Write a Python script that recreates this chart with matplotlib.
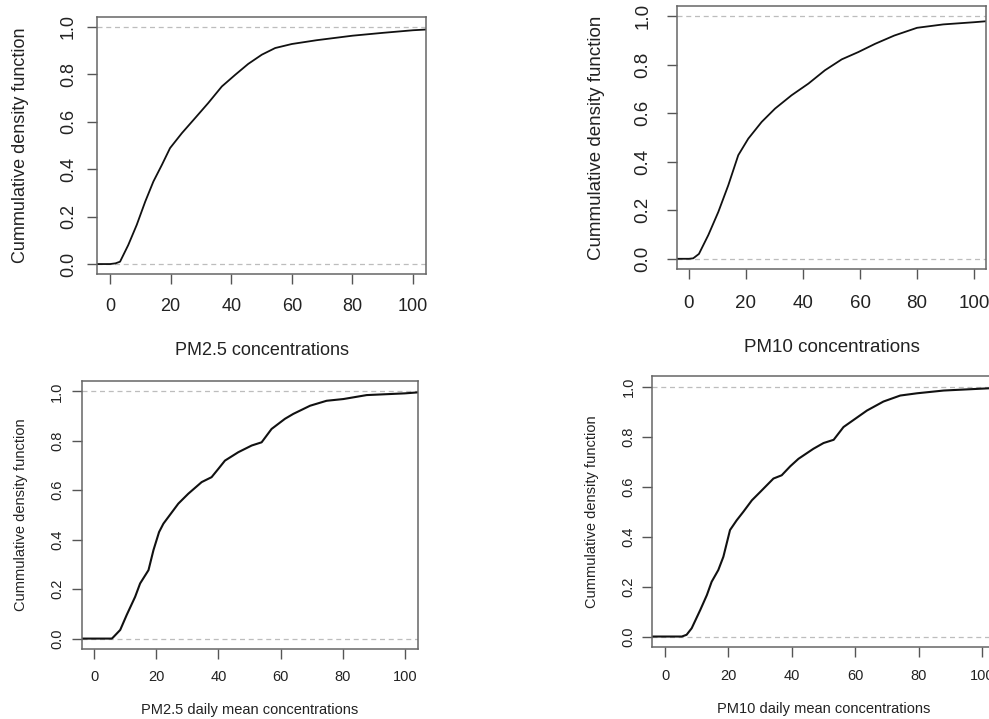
import matplotlib
matplotlib.use("Agg")
import matplotlib.pyplot as plt

plt.rcParams["font.family"] = ["Liberation Sans", "DejaVu Sans"]

# PM2.5 concentrations (smoothed ecdf)
pm25_x = [-4.3, 0, 1.8, 3.3, 6.0, 8.8, 11.6, 14.3, 17.1, 19.8, 23.7, 28.1, 32.4, 36.9, 41.3,
          45.6, 50.1, 54.5, 60, 68.2, 80, 90, 100, 104.3]
pm25_y = [0, 0, 0.003, 0.010, 0.080, 0.165, 0.263, 0.348, 0.418, 0.489, 0.552, 0.616, 0.679,
          0.749, 0.798, 0.844, 0.883, 0.911, 0.928, 0.944, 0.963, 0.975, 0.986, 0.989]

# PM10 concentrations
pm10_x = [-4.2, 0, 1.5, 3.5, 6.8, 10.3, 13.8, 17.3, 20.8, 25.5, 30.2, 36.0, 41.9, 47.7,
          53.6, 59.4, 65.3, 72, 80, 89.2, 100, 104.2]
pm10_y = [0, 0, 0.002, 0.02, 0.098, 0.193, 0.303, 0.427, 0.495, 0.564, 0.619, 0.674, 0.722,
          0.777, 0.822, 0.852, 0.886, 0.92, 0.952, 0.966, 0.975, 0.979]

# PM2.5 daily mean concentrations
pm25d_x = [-3.9, 5.7, 6.2, 8.4, 10.5, 13.2, 14.8, 17.5, 19.1, 20.9, 22.3, 23.9, 27.1, 30.3,
           34.6, 37.8, 40, 42.1, 46.4, 50.7, 53.9, 57.1, 61.4, 64.1, 69.5, 74.8, 80.2,
           87.7, 100, 104.2]
pm25d_y = [0, 0, 0.006, 0.035, 0.096, 0.169, 0.223, 0.277, 0.358, 0.431, 0.465, 0.492, 0.546,
           0.586, 0.633, 0.653, 0.687, 0.72, 0.754, 0.781, 0.794, 0.848, 0.889, 0.909, 0.942,
           0.962, 0.969, 0.985, 0.992, 0.996]

# PM10 daily mean concentrations
pm10d_x = [-4.1, 5.3, 6.8, 8.4, 11.1, 13.2, 14.7, 16.8, 18.4, 20.5, 22.6, 24.7, 27.4, 30,
           34.2, 36.8, 39.5, 42.1, 46.8, 50, 53.2, 56.3, 60, 63.7, 68.9, 74.2, 79.5, 87.9,
           102.3, 104.2]
pm10d_y = [0, 0, 0.007, 0.033, 0.106, 0.166, 0.219, 0.266, 0.319, 0.426, 0.465, 0.499, 0.545,
           0.578, 0.632, 0.645, 0.681, 0.711, 0.751, 0.774, 0.787, 0.838, 0.871, 0.904, 0.94,
           0.964, 0.973, 0.984, 0.993, 0.994]

xticks = [0, 20, 40, 60, 80, 100]
yticks = [0.0, 0.2, 0.4, 0.6, 0.8, 1.0]
ylab = "Cummulative density function"

panels = [
    # x, y, xlabel, rect, xlim, fontsize, lw, x pad, y pad, ylabel x, xlabel y
    (pm25_x, pm25_y, "PM2.5 concentrations", [0.0981, 0.6189, 0.3327, 0.3575],
     (-4.3, 104.3), 13, 1.3, 10, 7, -0.232, -0.296),
    (pm10_x, pm10_y, "PM10 concentrations", [0.6845, 0.6259, 0.3125, 0.3658],
     (-4.2, 104.2), 13.5, 1.3, 11, 11, -0.259, -0.297),
    (pm25d_x, pm25d_y, "PM2.5 daily mean concentrations", [0.0829, 0.0974, 0.3397, 0.3727],
     (-3.9, 104.2), 10.5, 1.5, 8, 5.5, -0.182, -0.228),
    (pm10d_x, pm10d_y, "PM10 daily mean concentrations", [0.6593, 0.1001, 0.3471, 0.3769],
     (-4.1, 104.2), 10.5, 1.5, 8, 4.5, -0.175, -0.229),
]

fig = plt.figure(figsize=(9.89, 7.19), dpi=100)

for xs, ys, xlab, rect, xlim, fs, lw, xpad, ypad, ylx, xly in panels:
    ax = fig.add_axes(rect)
    ax.axhline(0, color="#bdbdbd", lw=0.9, ls=(0, (4, 3)))
    ax.axhline(1, color="#bdbdbd", lw=0.9, ls=(0, (4, 3)))
    ax.plot(xs, ys, color="#111111", lw=lw)
    ax.set_xlim(*xlim)
    ax.set_ylim(-0.042, 1.042)
    ax.set_xticks(xticks)
    ax.set_yticks(yticks)
    ax.set_xticklabels([str(t) for t in xticks])
    ax.set_yticklabels(["%.1f" % t for t in yticks], rotation=90, va="center")
    ax.tick_params(length=7.5, width=1, color="#555555", labelsize=fs,
                   labelcolor="#222222")
    ax.tick_params(axis="x", pad=xpad)
    ax.tick_params(axis="y", pad=ypad)
    for s in ax.spines.values():
        s.set_color("#666666")
        s.set_linewidth(1.1)
    ax.set_xlabel(xlab, fontsize=fs, color="#222222", va="center")
    ax.set_ylabel(ylab, fontsize=fs, color="#222222", va="center")
    ax.xaxis.set_label_coords(0.5, xly)
    ax.yaxis.set_label_coords(ylx, 0.5)

fig.savefig("out.png", dpi=100)
